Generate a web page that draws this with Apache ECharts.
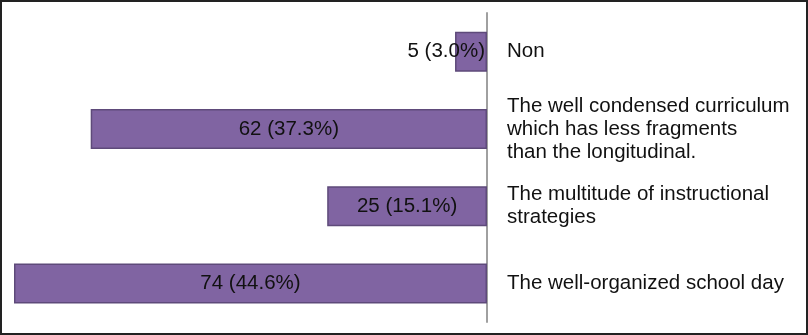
<!DOCTYPE html>
<html>
<head>
<meta charset="utf-8">
<script src="https://cdn.jsdelivr.net/npm/echarts@6/dist/echarts.min.js"></script>
<style>
html,body{margin:0;padding:0;background:#fff;}
#chart{width:808px;height:335px;}
</style>
</head>
<body>
<div id="chart"></div>
<script>
const categories = [
  "Non",
  "The well condensed curriculum\nwhich has less fragments\nthan the longitudinal.",
  "The multitude of instructional\nstrategies",
  "The well-organized school day"
];
const counts = [5, 62, 25, 74];
const percents = ["3.0", "37.3", "15.1", "44.6"];

// small vertical nudges of the category labels [top, bottom] padding
const labelPads = [[4, 0, 0, 0], [0, 0, 9, 0], [8, 0, 0, 0], [0, 0, 0, 0]];

const chart = echarts.init(document.getElementById('chart'));
const seriesData = counts.map((v, i) => {
  const item = { value: v };
  if (v < 10) {
    item.label = { position: 'insideRight', distance: 2 };
  }
  return item;
});

chart.setOption({
  animation: false,
  grid: { left: 14, right: 321, top: 13, bottom: 13 },
  xAxis: {
    type: 'value',
    inverse: true,
    min: 0,
    max: 74,
    show: false
  },
  yAxis: {
    type: 'category',
    data: categories.map((c, i) => ({ value: c, textStyle: { padding: labelPads[i] } })),
    inverse: true,
    position: 'right',
    axisLine: { show: true, lineStyle: { color: '#A0A0A0', width: 2 } },
    axisTick: { show: false },
    axisLabel: {
      margin: 20,
      align: 'left',
      color: '#111',
      fontFamily: 'Liberation Sans, Arial, sans-serif',
      fontSize: 20.5,
      lineHeight: 23
    }
  },
  series: [{
    type: 'bar',
    data: seriesData,
    barWidth: 40,
    itemStyle: { color: '#8064A2', borderColor: '#5E4A7A', borderWidth: 1.5 },
    label: {
      show: true,
      position: 'inside',
      color: '#111',
      fontFamily: 'Liberation Sans, Arial, sans-serif',
      fontSize: 20.5,
      formatter: p => counts[p.dataIndex] + ' (' + percents[p.dataIndex] + '%)'
    },
    z: 1
  }],
  graphic: [{
    type: 'rect',
    shape: { x: 1, y: 1, width: 806, height: 333 },
    style: { fill: 'none', stroke: '#222', lineWidth: 2 },
    silent: true,
    z: 100
  }]
});
</script>
</body>
</html>
